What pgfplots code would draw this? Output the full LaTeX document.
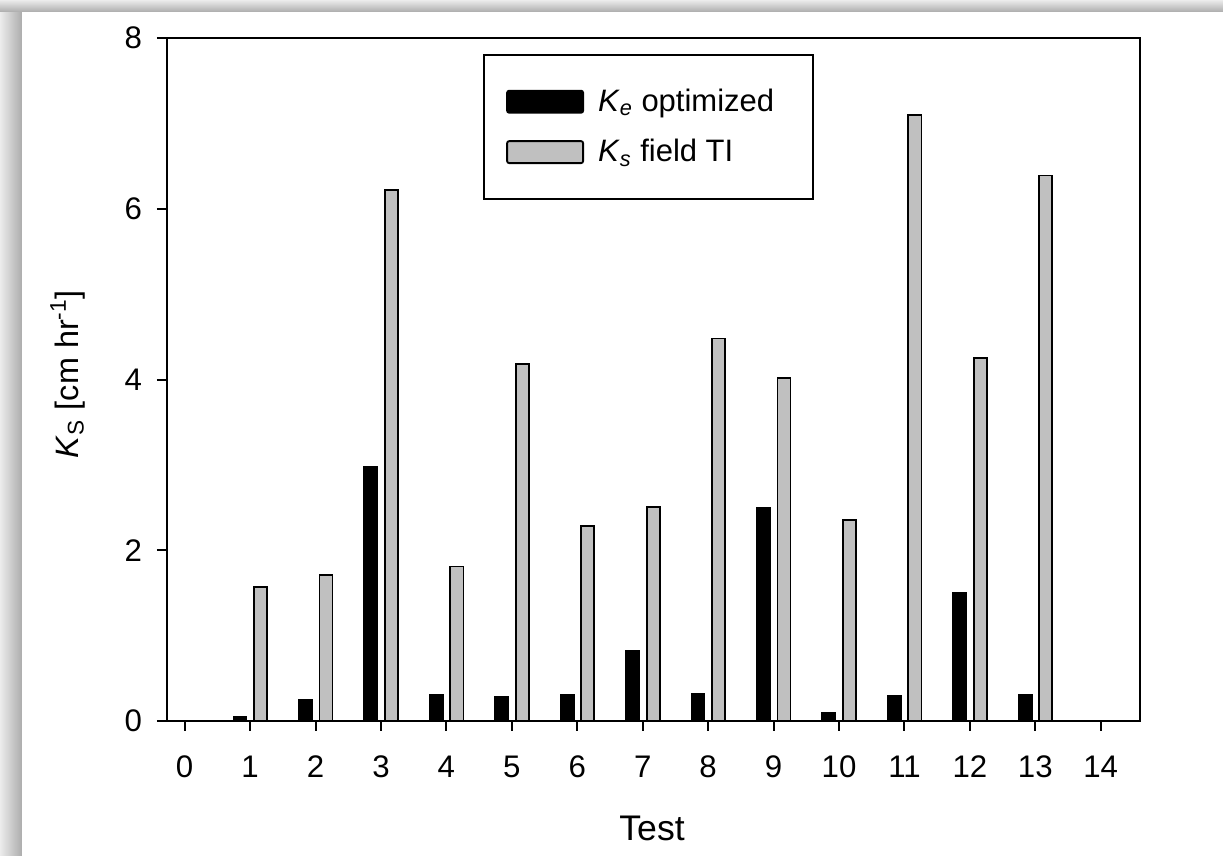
\documentclass[border=0pt]{standalone}
\usepackage{pgfplots}
\pgfplotsset{compat=1.18}
\usepackage{fontspec}
\setmainfont{Liberation Sans}
\definecolor{barg}{HTML}{C0C0C0}
\pgfplotsset{my bar legend/.style={legend image code/.code={\draw[##1, rounded corners=1bp] (0bp,-5.5bp) rectangle (38bp,5.5bp);}}}
\begin{document}
\begin{tikzpicture}
\useasboundingbox (0,0) rectangle (611.5bp,428bp);
\shade[left color=gray!15, right color=gray!65] (0,0) rectangle (11bp,428bp);
\shade[top color=gray!15, bottom color=gray!65] (0,422bp) rectangle (611.5bp,428bp);
\fill[white] (11bp,0) rectangle (611.5bp,422bp);
\begin{axis}[
  at={(83.5bp,67.5bp)}, anchor=south west,
  scale only axis, width=486.5bp, height=341.5bp,
  xmin=-0.27, xmax=14.6, ymin=0, ymax=8,
  xtick={0,1,...,14}, ytick={0,2,4,6,8},
  xtick pos=bottom, ytick pos=left,
  tick align=outside, major tick length=5bp,
  axis line style={line width=1bp}, tick style={line width=1bp, black},
  /pgf/number format/assume math mode=true,
  tick label style={font=\fontsize{15.6bp}{18bp}\selectfont},
  xticklabel style={yshift=-9bp},
  yticklabel style={xshift=-4bp},
  xlabel={Test},
  ylabel={\textit{K}\textsubscript{S} [cm hr\textsuperscript{-1}]},
  xlabel style={at={(axis description cs:0.4985,-0.157)}, anchor=center, font=\fontsize{17.8bp}{20bp}\selectfont},
  ylabel style={at={(axis description cs:-0.102,0.508)}, anchor=center, font=\fontsize{16.2bp}{19bp}\selectfont},
  ybar, bar width=0.2,
  legend style={at={(0.325,0.9766)}, anchor=north west, draw=black, line width=1bp,
    inner xsep=11bp, inner ysep=15bp, row sep=8.5bp, column sep=5bp,
    font=\fontsize{15.5bp}{18bp}\selectfont},
  legend cell align=left,
]
\addplot[fill=black, draw=black, line width=0.9bp, bar shift=-0.155, my bar legend]
  coordinates {(1,0.05) (2,0.245) (3,2.98) (4,0.30) (5,0.28) (6,0.30) (7,0.82) (8,0.32) (9,2.50) (10,0.10) (11,0.29) (12,1.50) (13,0.30)};
\addlegendentry{\textit{K}\textsubscript{\textit{e}} optimized\hspace*{6.5bp}}
\addplot[fill=barg, draw=black, line width=0.9bp, bar shift=0.16, my bar legend]
  coordinates {(1,1.57) (2,1.71) (3,6.22) (4,1.81) (5,4.18) (6,2.28) (7,2.51) (8,4.48) (9,4.02) (10,2.35) (11,7.10) (12,4.25) (13,6.39)};
\addlegendentry{\textit{K}\textsubscript{\textit{s}} field TI}
\end{axis}
\end{tikzpicture}
\end{document}
